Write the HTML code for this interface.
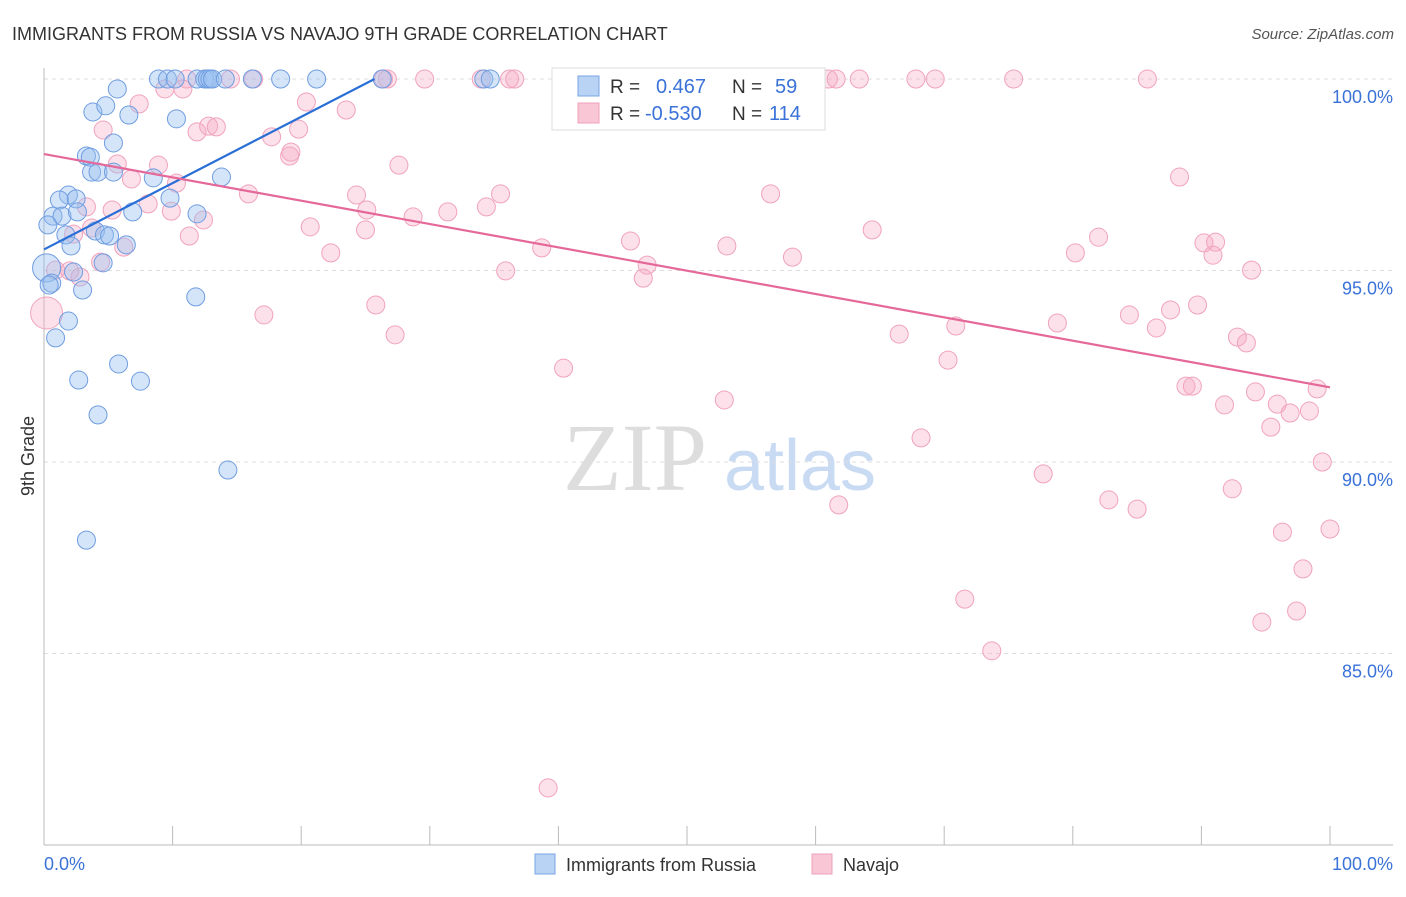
<!DOCTYPE html>
<html><head><meta charset="utf-8"><style>
body{margin:0;background:#fff;font-family:"Liberation Sans",sans-serif;}
svg text{font-family:"Liberation Sans",sans-serif;}
</style></head><body>
<svg id="chart" width="1406" height="892" viewBox="0 0 1406 892" xmlns="http://www.w3.org/2000/svg">
<text x="12" y="40" font-size="18" fill="#333">IMMIGRANTS FROM RUSSIA VS NAVAJO 9TH GRADE CORRELATION CHART</text>
<text x="1394" y="39" font-size="15" fill="#555" text-anchor="end" font-style="italic">Source: ZipAtlas.com</text>
<text transform="translate(34,456) rotate(-90)" font-size="18" fill="#333" text-anchor="middle">9th Grade</text>
<g>
<text x="635" y="490" font-size="96" fill="#ddd" text-anchor="middle" font-family="Liberation Serif" style="font-family:'Liberation Serif',serif">ZIP</text>
<text x="800" y="490" font-size="72" fill="#c9dbf3" text-anchor="middle">atlas</text>
</g>
<g id="grid"></g><g id="axes"></g><g id="pinkPts"></g><g id="bluePts"></g><g id="lines"></g>
<g>
<rect x="552" y="68" width="273" height="62" fill="#fff" stroke="#ddd"/>
<rect x="578" y="76" width="21" height="20" fill="#b9d3f5" stroke="#7aa5e5"/>
<rect x="578" y="103" width="21" height="20" fill="#f9c6d6" stroke="#eea0b9"/>
<text x="610" y="93" font-size="19" fill="#333">R =</text>
<text x="656" y="93" font-size="20" fill="#3a72d8">0.467</text>
<text x="732" y="93" font-size="19" fill="#333">N =</text>
<text x="775" y="93" font-size="20" fill="#3a72d8">59</text>
<text x="610" y="120" font-size="19" fill="#333">R =</text>
<text x="645" y="120" font-size="20" fill="#3a72d8">-0.530</text>
<text x="732" y="120" font-size="19" fill="#333">N =</text>
<text x="769" y="120" font-size="20" fill="#3a72d8">114</text>
</g>
<g>
<rect x="535" y="854" width="20" height="20" fill="#b9d3f5" stroke="#7aa5e5"/>
<text x="566" y="871" font-size="18" fill="#333">Immigrants from Russia</text>
<rect x="812" y="854" width="20" height="20" fill="#f9c6d6" stroke="#eea0b9"/>
<text x="843" y="871" font-size="18" fill="#333">Navajo</text>
</g>
</svg>
<script>
const yTicks=[100,95,90,85];
const yTickLabels=["100.0%","95.0%","90.0%","85.0%"];
const xTicks=[0,10,20,30,40,50,60,70,80,90,100];
const blueX=[8.9,9.6,10.2,11.9,12.5,12.7,12.9,13.1,14.1,16.2,18.4,21.2,26.3,34.2,34.7,5.7,3.8,4.8,6.6,10.3,5.4,3.3,3.6,3.7,4.2,5.4,8.5,13.8,1.9,1.2,2.5,9.8,0.7,1.4,0.3,2.6,6.9,11.9,1.7,4.0,4.7,5.1,6.4,2.1,4.6,0.2,2.3,0.6,0.4,3.0,11.8,1.9,0.9,5.8,2.7,7.5,4.2,14.3,3.3];
const blueY=[100,100,100,100,100,100,100,100,100,100,100,100,100,100,100,99.74,99.14,99.3,99.06,98.96,98.33,97.99,97.96,97.57,97.57,97.57,97.42,97.44,96.97,96.84,96.87,96.89,96.42,96.42,96.19,96.53,96.53,96.48,95.93,96.03,95.93,95.9,95.67,95.64,95.2,95.07,94.96,94.67,94.62,94.49,94.31,93.68,93.24,92.56,92.14,92.11,91.23,89.79,87.96];
const blueSize=[45,14];
const pinkX=[11.1,14.5,16.3,26.4,26.7,29.6,34.0,36.2,36.6,52.4,61.0,61.6,63.4,67.8,69.3,75.4,85.8,9.4,10.8,7.4,20.4,23.5,4.6,11.9,12.8,13.4,19.8,17.7,19.2,19.1,27.6,5.7,8.9,6.8,10.3,15.9,24.3,35.5,56.5,88.3,3.3,5.3,8.1,9.9,25.1,28.7,31.4,34.4,12.4,20.7,25.0,3.7,2.3,11.3,45.6,53.1,38.7,64.4,82.0,90.2,91.1,6.2,22.3,80.2,90.9,58.2,46.9,4.4,0.9,2.0,35.9,46.6,93.9,2.8,25.8,17.1,87.6,89.7,84.4,78.8,70.9,86.5,66.5,92.8,93.5,27.3,0.2,70.3,40.4,88.8,89.3,94.2,52.9,91.8,95.9,99.0,96.9,98.4,95.4,68.2,99.4,77.7,92.4,82.8,61.8,85.0,96.3,100.0,97.9,71.6,97.4,94.7,73.7,39.2];
const pinkY=[100,100,100,100,100,100,100,100,100,100,100,100,100,100,100,100,100,99.74,99.74,99.35,99.4,99.19,98.67,98.62,98.77,98.75,98.69,98.49,98.09,97.99,97.75,97.78,97.75,97.39,97.28,97.0,96.97,97.0,97.0,97.44,96.66,96.58,96.74,96.55,96.58,96.4,96.53,96.66,96.32,96.14,96.06,96.11,95.95,95.9,95.77,95.64,95.59,96.06,95.87,95.72,95.74,95.61,95.46,95.46,95.4,95.35,95.14,95.22,95.01,94.99,94.99,94.8,95.01,94.83,94.1,93.84,93.97,94.1,93.84,93.63,93.55,93.5,93.34,93.26,93.11,93.32,93.89,92.66,92.45,91.98,91.98,91.83,91.62,91.49,91.51,91.91,91.28,91.33,90.91,90.63,90.0,89.69,89.3,89.01,88.88,88.77,88.17,88.25,87.21,86.42,86.11,85.82,85.07,81.49];
const pinkSize=[86,16];
const blueLine=[[0,95.55],[25.7,100]];
const pinkLine=[[0,98.04],[100,91.95]];

const NS="http://www.w3.org/2000/svg";
const sx=v=>44+v*12.86;
const sy=v=>79+(100-v)*38.3;
function mk(tag,attrs,parent){const e=document.createElementNS(NS,tag);for(const k in attrs)e.setAttribute(k,attrs[k]);document.getElementById(parent).appendChild(e);return e;}

yTicks.forEach((t,i)=>{
  const l=mk('line',{x1:44,x2:1393,y1:sy(t),y2:sy(t),stroke:'#ddd','stroke-dasharray':'4,4'},'grid');
  
  
  const tx=mk('text',{x:1393,y:sy(t)+24,'font-size':18,fill:'#3a72d8','text-anchor':'end'},'axes');
  tx.textContent=yTickLabels[i];
  
  
});
const ax=mk('line',{x1:44,x2:44,y1:68,y2:845,stroke:'#bbb'},'axes');


const bx=mk('line',{x1:44,x2:1393,y1:845,y2:845,stroke:'#bbb'},'axes');


xTicks.forEach(t=>{
  const l=mk('line',{x1:sx(t),x2:sx(t),y1:826,y2:845,stroke:'#bbb'},'axes');
  
  
});
const x0=mk('text',{x:44,y:870,'font-size':18,fill:'#3a72d8'},'axes');x0.textContent='0.0%';


const x1=mk('text',{x:1393,y:870,'font-size':18,fill:'#3a72d8','text-anchor':'end'},'axes');x1.textContent='100.0%';



pinkX.forEach((v,i)=>{
  const c=mk('circle',{cx:sx(v),cy:sy(pinkY[i]),r:(i===pinkSize[0]?pinkSize[1]:9),fill:'rgba(245,170,195,0.35)',stroke:'#f0a3bd','stroke-width':1},'pinkPts');
  
  
});
blueX.forEach((v,i)=>{
  const c=mk('circle',{cx:sx(v),cy:sy(blueY[i]),r:(i===blueSize[0]?blueSize[1]:9),fill:'rgba(150,190,240,0.4)',stroke:'#6f9de0','stroke-width':1},'bluePts');
  
  
});
const bl=mk('line',{x1:sx(blueLine[0][0]),y1:sy(blueLine[0][1]),x2:sx(blueLine[1][0]),y2:sy(blueLine[1][1]),stroke:'#2a6fd6','stroke-width':2.2},'lines');


const pl=mk('line',{x1:sx(pinkLine[0][0]),y1:sy(pinkLine[0][1]),x2:sx(pinkLine[1][0]),y2:sy(pinkLine[1][1]),stroke:'#e5689a','stroke-width':2.2},'lines');


</script>
</body></html>
